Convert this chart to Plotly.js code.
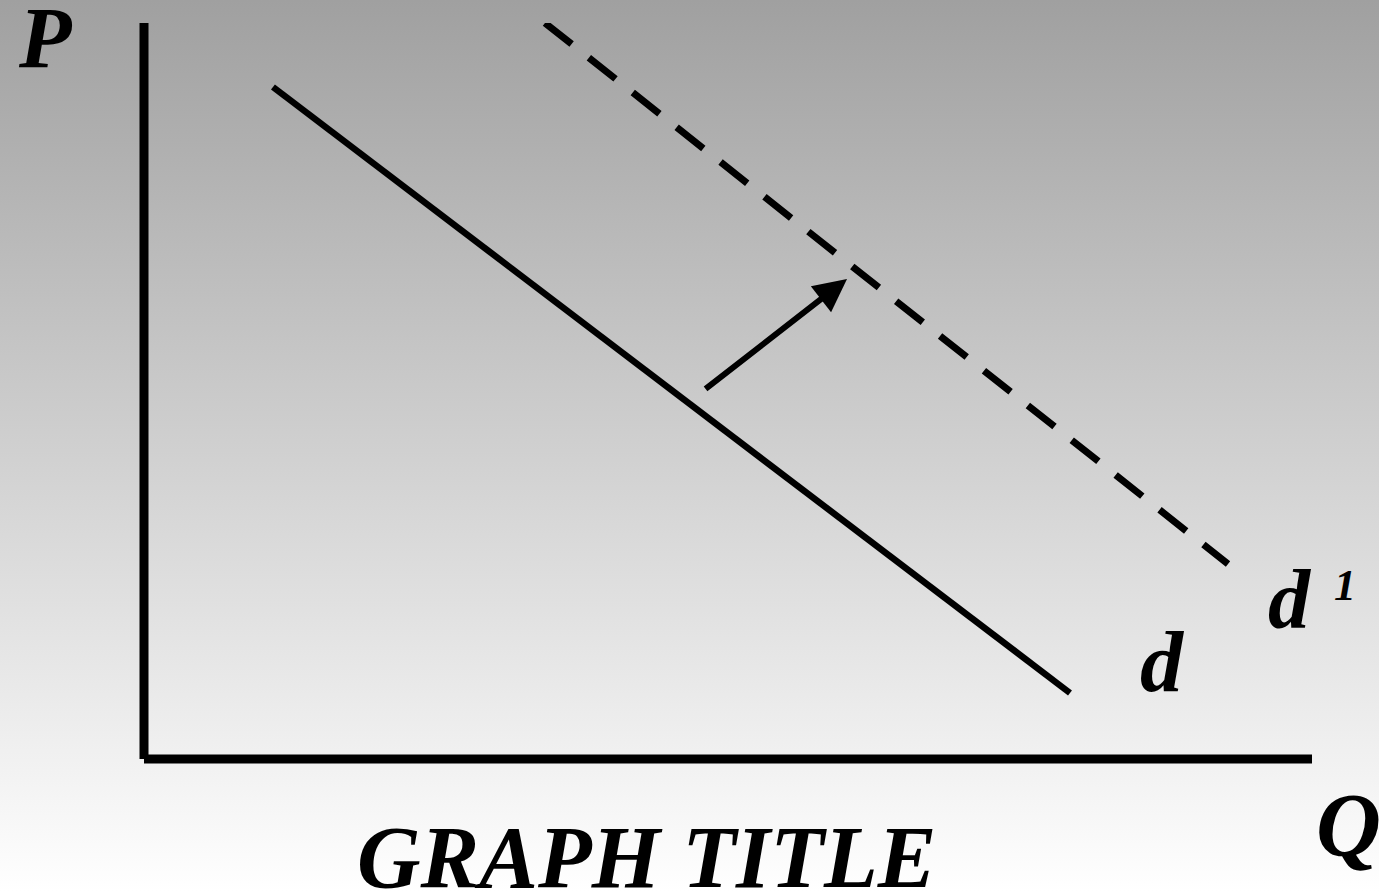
<!DOCTYPE html>
<html>
<head>
<meta charset="utf-8">
<script src="https://cdn.plot.ly/plotly-3.0.1.min.js"></script>
<style>
  html, body { margin: 0; padding: 0; }
  body { background: linear-gradient(to bottom, #a0a0a0 0%, #ffffff 100%); width: 1379px; height: 892px; overflow: hidden; }
  #chart { width: 1379px; height: 892px; }
</style>
</head>
<body>
<div id="chart"></div>
<script>
// Demand curve d (quantity, price)
const demandQ = [1.104, 7.928];
const demandP = [9.13, 0.897];
// Shifted demand curve d1
const demand1Q = [3.433, 9.281];
const demand1P = [10.0, 2.649];
// Shift arrow: tail and tip
const arrowQ = [4.795, 6.019];
const arrowP = [5.014, 6.522];

const labelFont = 'Liberation Serif, Times New Roman, serif';

const traces = [
  { x: demandQ, y: demandP, mode: 'lines', line: { color: '#000', width: 6.5 }, hoverinfo: 'skip', showlegend: false },
  { x: demand1Q, y: demand1P, mode: 'lines', line: { color: '#000', width: 7, dash: '34px,22px' }, hoverinfo: 'skip', showlegend: false }
];

function lab(text, px, py, size) {
  return {
    xref: 'paper', yref: 'paper',
    x: (px - 144) / 1168, y: (759 - py) / 736,
    xanchor: 'center', yanchor: 'middle',
    text: '<b><i>' + text + '</i></b>',
    showarrow: false,
    font: { family: labelFont, size: size, color: '#000' }
  };
}

const layout = {
  width: 1379, height: 892,
  margin: { l: 144, r: 67, t: 23, b: 133, pad: 0 },
  paper_bgcolor: 'rgba(0,0,0,0)',
  plot_bgcolor: 'rgba(0,0,0,0)',
  xaxis: { range: [0, 10], showgrid: false, zeroline: false, showticklabels: false, showline: false, ticks: '', fixedrange: true },
  yaxis: { range: [0, 10], showgrid: false, zeroline: false, showticklabels: false, showline: false, ticks: '', fixedrange: true },
  shapes: [
    { type: 'line', xref: 'paper', yref: 'paper', x0: 0, y0: 0, x1: 0, y1: 1, line: { color: '#000', width: 9 } },
    { type: 'line', xref: 'paper', yref: 'paper', x0: 0, y0: 0, x1: 1, y1: 0, line: { color: '#000', width: 9 } }
  ],
  annotations: [
    {
      x: arrowQ[1], y: arrowP[1], ax: arrowQ[0], ay: arrowP[0],
      xref: 'x', yref: 'y', axref: 'x', ayref: 'y',
      text: '', showarrow: true, arrowhead: 2, arrowsize: 1.1, arrowwidth: 6, arrowcolor: '#000', standoff: 0
    },
    lab('P', 45, 38, 86),
    lab('Q', 1348, 825, 90),
    lab('d', 1162, 662, 86),
    lab('d', 1290, 599, 84),
    lab('1', 1345, 585, 44),
    lab('GRAPH TITLE', 646, 857, 88)
  ]
};

Plotly.newPlot('chart', traces, layout, { displayModeBar: false, staticPlot: true });
</script>
</body>
</html>
